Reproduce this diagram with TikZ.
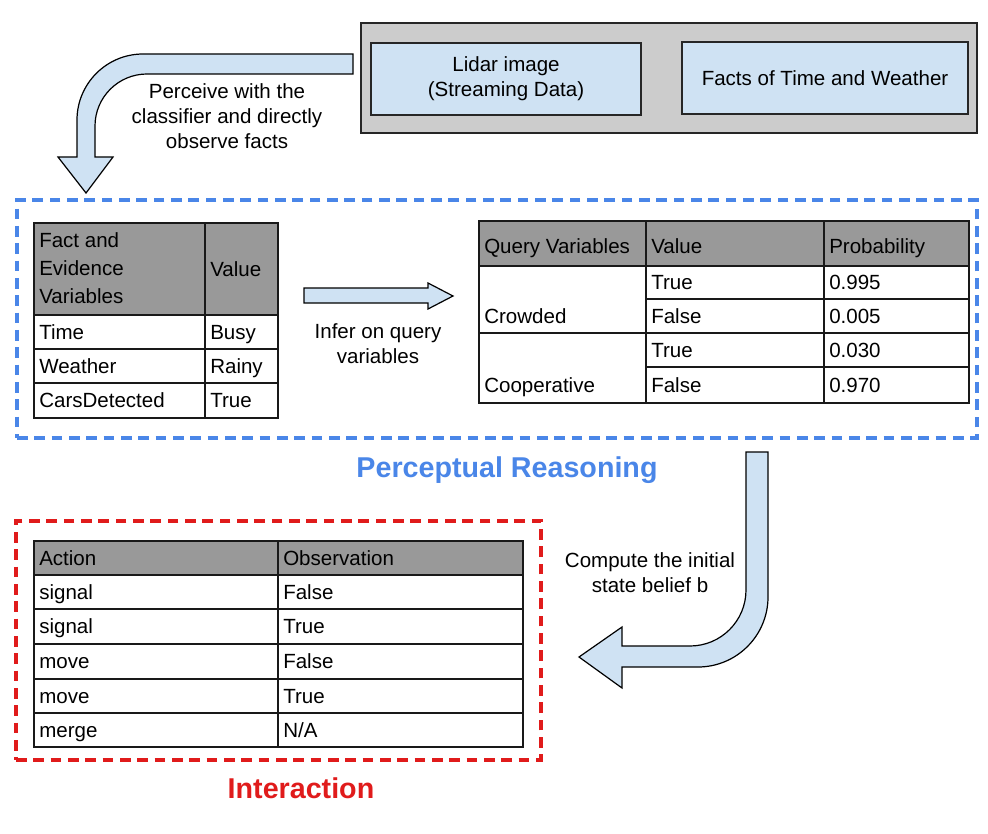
\documentclass[tikz,border=0pt]{standalone}
\usepackage{fontspec}
\setmainfont{Liberation Sans}
\usepackage{xcolor}
\usepackage{tikz}
\usetikzlibrary{calc}
\usetikzlibrary{positioning}
\tikzset{>=latex}
\definecolor{boxblue}{HTML}{CFE2F3}
\definecolor{srcgray}{HTML}{CCCCCC}
\definecolor{hdrgray}{HTML}{999999}
\definecolor{percblue}{HTML}{4A86E8}
\definecolor{actred}{HTML}{E01B1B}
\tikzstyle{fatarrow} = [draw = black, fill = boxblue, line width = 0.9pt]
\tikzstyle{databox} = [rectangle, draw = black!85, fill = boxblue, line width = 1pt, align = center]
\tikzstyle{tabline} = [draw = black!90, line width = 1.3pt]
\tikzstyle{hdr} = [fill = hdrgray]
\tikzstyle{celltext} = [anchor = west, inner sep = 0pt, text height = 11pt, text depth = 0pt]
\tikzstyle{arrowtext} = [align = center, inner sep = 0pt]
\tikzstyle{groupframe} = [rectangle, line width = 2.6pt, dash pattern = on 8pt off 5pt]
\tikzstyle{grouptitle} = [anchor = base, inner sep = 0pt, font = \fontsize{21.5}{26}\selectfont\bfseries]

\begin{document}
\begin{tikzpicture}[x = 0.75pt, y = -0.75pt, font = \fontsize{15.4}{18.75}\selectfont]
\useasboundingbox (0, 0) rectangle (988, 834);

% source data
\node [rectangle, draw = black!85, fill = srcgray, line width = 1pt, minimum width = 462pt, minimum height = 82.5pt] (Src) at (669, 78) {};
\node [databox, minimum width = 202.5pt, minimum height = 54pt] (Lidar) at (506, 79) {Lidar image\\(Streaming Data)};
\node [databox, minimum width = 214.5pt, minimum height = 54pt] (Facts) at (825, 78) {Facts of Time and Weather};

% perceive arrow
\draw [fatarrow] (353, 54) -- (143, 54) .. controls (106.6, 54) and (77, 83.6) .. (77, 120) -- (77, 157) -- (58, 157) -- (86, 193) -- (113, 157) -- (95, 157) -- (95, 126) .. controls (95, 97.3) and (118.3, 74) .. (147, 74) -- (353, 74) -- cycle;
\node [arrowtext] (PerceiveT) at (227, 116) {Perceive with the\\classifier and directly\\observe facts};

% perceptual reasoning
\node [groupframe, draw = percblue, minimum width = 720pt, minimum height = 178.5pt] (Perc) at (497, 319) {};
\node [grouptitle, text = percblue] (PercT) at (507, 477) {Perceptual Reasoning};

% evidence table
\fill [hdr] (34, 223) rectangle (278, 315);
\draw [tabline] (34, 223) rectangle (278, 418);
\draw [tabline] (205, 223) -- (205, 418);
\draw [tabline] (34, 315) -- (278, 315);
\draw [tabline] (34, 349) -- (278, 349);
\draw [tabline] (34, 383) -- (278, 383);
\node [anchor = west, inner sep = 0pt, align = left, font = \fontsize{15.4}{21}\selectfont] (EvH) at (39, 268) {Fact and\\Evidence\\Variables};
\node [celltext] (EvHv) at (210, 269) {Value};
\node [celltext] (Ev1) at (39, 332) {Time};
\node [celltext] (Ev1v) at (210, 332) {Busy};
\node [celltext] (Ev2) at (39, 366) {Weather};
\node [celltext] (Ev2v) at (210, 366) {Rainy};
\node [celltext] (Ev3) at (39, 400) {CarsDetected};
\node [celltext] (Ev3v) at (210, 400) {True};

% infer arrow
\draw [fatarrow] (304, 288) -- (428, 288) -- (428, 283) -- (453, 296) -- (428, 309) -- (428, 303) -- (304, 303) -- cycle;
\node [arrowtext] (InferT) at (378, 344) {Infer on query\\variables};

% query table
\fill [hdr] (479, 221) rectangle (969, 266);
\draw [tabline] (479, 221) rectangle (969, 403);
\draw [tabline] (646, 221) -- (646, 403);
\draw [tabline] (824, 221) -- (824, 403);
\draw [tabline] (479, 266) -- (969, 266);
\draw [tabline] (479, 333) -- (969, 333);
\draw [tabline] (646, 299) -- (969, 299);
\draw [tabline] (646, 367) -- (969, 367);
\node [celltext] (QH1) at (484, 246) {Query Variables};
\node [celltext] (QH2) at (651, 246) {Value};
\node [celltext] (QH3) at (829, 246) {Probability};
\node [celltext] (Q1) at (484, 316) {Crowded};
\node [celltext] (Q1a) at (651, 282) {True};
\node [celltext] (Q1ap) at (829, 282) {0.995};
\node [celltext] (Q1b) at (651, 316) {False};
\node [celltext] (Q1bp) at (829, 316) {0.005};
\node [celltext] (Q2) at (484, 385) {Cooperative};
\node [celltext] (Q2a) at (651, 350) {True};
\node [celltext] (Q2ap) at (829, 350) {0.030};
\node [celltext] (Q2b) at (651, 385) {False};
\node [celltext] (Q2bp) at (829, 385) {0.970};

% compute arrow
\draw [fatarrow] (746, 452) -- (768, 452) -- (768, 597) .. controls (768, 635.6) and (736.6, 667) .. (698, 667) -- (622, 667) -- (622, 688) -- (579, 657) -- (622, 627) -- (622, 646) -- (690, 646) .. controls (720.9, 646) and (746, 620.9) .. (746, 590) -- cycle;
\node [arrowtext] (ComputeT) at (650, 573) {Compute the initial\\state belief b};

% interaction
\node [groupframe, draw = actred, minimum width = 393.75pt, minimum height = 179.25pt] (Act) at (278.5, 640.5) {};
\node [grouptitle, text = actred] (ActT) at (301, 798) {Interaction};

% action table
\fill [hdr] (34, 541) rectangle (523, 575);
\draw [tabline] (34, 541) rectangle (523, 747);
\draw [tabline] (278, 541) -- (278, 747);
\draw [tabline] (34, 575) -- (523, 575);
\draw [tabline] (34, 609) -- (523, 609);
\draw [tabline] (34, 644) -- (523, 644);
\draw [tabline] (34, 679) -- (523, 679);
\draw [tabline] (34, 713) -- (523, 713);
\node [celltext] (AH1) at (39, 558) {Action};
\node [celltext] (AH2) at (283, 558) {Observation};
\node [celltext] (A1) at (39, 592) {signal};
\node [celltext] (A1o) at (283, 592) {False};
\node [celltext] (A2) at (39, 626.5) {signal};
\node [celltext] (A2o) at (283, 626.5) {True};
\node [celltext] (A3) at (39, 661.5) {move};
\node [celltext] (A3o) at (283, 661.5) {False};
\node [celltext] (A4) at (39, 696) {move};
\node [celltext] (A4o) at (283, 696) {True};
\node [celltext] (A5) at (39, 730) {merge};
\node [celltext] (A5o) at (283, 730) {N/A};
\end{tikzpicture}
\end{document}
